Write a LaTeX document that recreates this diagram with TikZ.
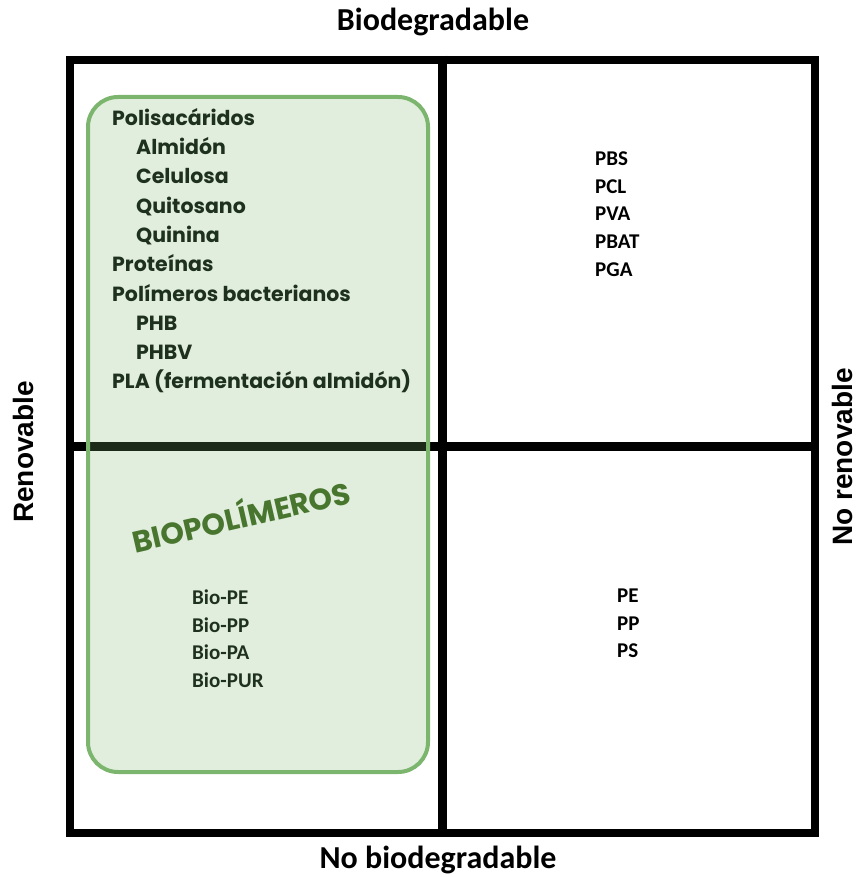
\documentclass[tikz,border=0pt]{standalone}
\usepackage{fontspec}
\setmainfont{Carlito}
\newfontfamily\listfont{Poppins}
\newfontfamily\axisfont{Liberation Sans}
\usetikzlibrary{positioning}

\definecolor{bioGreen}{RGB}{124,182,110}
\definecolor{bioText}{RGB}{30,48,30}
\definecolor{bioTitle}{RGB}{72,118,46}

\begin{document}
\begin{tikzpicture}[x=1pt, y=-1pt,
  gridline/.style={line width=8.5pt},
  axislabel/.style={font=\axisfont\bfseries\fontsize{28}{30}\selectfont},
  sidelabel/.style={font=\bfseries\fontsize{32}{34}\selectfont},
  itemlist/.style={align=left, inner sep=0pt, anchor=north west, font=\bfseries\fontsize{21}{27.7}\selectfont}]
\useasboundingbox (0,0) rectangle (858,877);

% Quadrants
\node[draw, gridline, minimum width=745pt, minimum height=773pt] (frame) at (442.5,446.5) {};
\draw[gridline] (frame.north) -- (frame.south);
\draw[gridline] (frame.west) -- (frame.east);

% Axis labels
\node[sidelabel] (biodeg) at (433,22) {Biodegradable};
\node[sidelabel] (nobiodeg) at (438,860) {No biodegradable};
\node[axislabel, rotate=90] (renov) at (23,452) {Renovable};
\node[axislabel, rotate=90] (norenov) at (842,457) {No renovable};

% Biopolymer box
\node[draw=bioGreen, line width=4pt, fill=bioGreen, fill opacity=0.23, rounded corners=30pt,
  minimum width=340pt, minimum height=675pt] (bio) at (258,434.5) {};
\node[rotate=13, text=bioTitle, font=\listfont\bfseries\fontsize{30}{32}\selectfont] (biotitle) at (241,514) {BIOPOLÍMEROS};

% Lists
\node[itemlist, text=bioText, font=\listfont\bfseries\fontsize{20.5}{29.3}\selectfont] (renewlist) at (112,108)
  {Polisacáridos\\\hspace*{24pt}Almidón\\\hspace*{24pt}Celulosa\\\hspace*{24pt}Quitosano\\\hspace*{24pt}Quinina\\Proteínas\\Polímeros bacterianos\\\hspace*{24pt}PHB\\\hspace*{24pt}PHBV\\PLA (fermentación almidón)};
\node[itemlist, text=bioText] (biolist) at (192,589.5) {Bio-PE\\Bio-PP\\Bio-PA\\Bio-PUR};
\node[itemlist] (degradlist) at (595,151.5) {PBS\\PCL\\PVA\\PBAT\\PGA};
\node[itemlist] (fossillist) at (617,588.5) {PE\\PP\\PS};
\end{tikzpicture}
\end{document}
